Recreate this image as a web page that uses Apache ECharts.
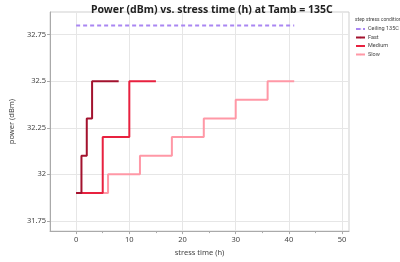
<!DOCTYPE html>
<html><head><meta charset="utf-8">
<script src="https://cdn.jsdelivr.net/npm/echarts@6/dist/echarts.min.js"></script>
<style>html,body{margin:0;padding:0;background:#fff}#c{width:400px;height:262px}</style>
</head><body><div id="c"></div>
<script>
const xTicks = [0, 10, 20, 30, 40, 50];
const xMinorTicks = [5, 15, 25, 35, 45];
const yTicks = [31.75, 32, 32.25, 32.5, 32.75];

const ceilingTime = [0, 41];
const ceilingPower = [32.8, 32.8];
const fastTime = [0, 1, 2, 3, 8];
const fastPower = [31.9, 32.1, 32.3, 32.5, 32.5];
const mediumTime = [0, 5, 10, 15];
const mediumPower = [31.9, 32.2, 32.5, 32.5];
const slowTime = [0, 6, 12, 18, 24, 30, 36, 41];
const slowPower = [31.9, 32.0, 32.1, 32.2, 32.3, 32.4, 32.5, 32.5];

const pairs = (t, p) => t.map((v, i) => [v, p[i]]);
const font = 'Noto Sans, Open Sans, sans-serif';
const small = 'Roboto, Noto Sans, sans-serif';
const chart = echarts.init(document.getElementById('c'), null, {renderer: 'canvas'});
chart.setOption({
  animation: false,
  backgroundColor: '#fff',
  title: [
    {text: 'Power (dBm) vs. stress time (h) at Tamb = 135C', left: 86, top: 0,
     textStyle: {fontSize: 10.5, fontWeight: 'bold', color: '#222', fontFamily: font}},
    {text: 'step stress condition', left: 350, top: 12,
     textStyle: {fontSize: 5, fontWeight: 'normal', color: '#444', fontFamily: small}}
  ],
  legend: {
    orient: 'vertical', left: 350, top: 21, itemWidth: 9, itemHeight: 2, itemGap: 2.5,
    textStyle: {fontSize: 5.5, color: '#444', fontFamily: small, padding: [0,0,0,-2]},
    data: ['Ceiling 135C', 'Fast', 'Medium', 'Slow']
  },
  grid: {left: 35, right: 51, top: 12, bottom: 22, show: true, borderColor: '#cfcfcf', borderWidth: 1, containLabel: false},
  xAxis: [{
    type: 'value', min: -4.9, max: 51.3,
    name: 'stress time (h)', nameLocation: 'middle', nameGap: 12,
    nameTextStyle: {fontSize: 7.5, color: '#444', fontFamily: font},
    axisLine: {show: true, onZero: false, lineStyle: {color: '#aaa'}},
    axisTick: {show: true, length: 3, lineStyle: {color: '#aaa'}, customValues: xTicks},
    axisLabel: {fontSize: 7.5, color: '#444', fontFamily: font, margin: 5, customValues: xTicks},
    splitLine: {show: true, lineStyle: {color: '#e6e6e6'}}
  }, {
    type: 'value', min: -4.9, max: 51.3, position: 'bottom',
    axisLine: {show: false, onZero: false},
    axisTick: {show: true, length: 2, lineStyle: {color: '#aaa'}, customValues: xMinorTicks},
    axisLabel: {show: false},
    splitLine: {show: false}
  }],
  yAxis: {
    type: 'value', min: 31.695, max: 32.872,
    name: 'power (dBm)', nameLocation: 'middle', nameGap: 25,
    nameTextStyle: {fontSize: 7.5, color: '#444', fontFamily: font},
    axisLine: {show: true, onZero: false, lineStyle: {color: '#aaa'}},
    axisTick: {show: true, length: 3, lineStyle: {color: '#aaa'}, customValues: yTicks},
    axisLabel: {fontSize: 7.5, color: '#444', fontFamily: font, margin: 4, customValues: yTicks},
    splitLine: {show: true, lineStyle: {color: '#e6e6e6'}}
  },
  series: [
    {name: 'Slow', type: 'line', step: 'end', symbol: 'none', z: 2,
     data: pairs(slowTime, slowPower), lineStyle: {color: '#ff98a6', width: 2}, itemStyle: {color: '#ff98a6'}},
    {name: 'Medium', type: 'line', step: 'end', symbol: 'none', z: 3,
     data: pairs(mediumTime, mediumPower), lineStyle: {color: '#e8213f', width: 2}, itemStyle: {color: '#e8213f'}},
    {name: 'Fast', type: 'line', step: 'end', symbol: 'none', z: 4,
     data: pairs(fastTime, fastPower), lineStyle: {color: '#a3122e', width: 2}, itemStyle: {color: '#a3122e'}},
    {name: 'Ceiling 135C', type: 'line', symbol: 'none', z: 5,
     data: pairs(ceilingTime, ceilingPower), lineStyle: {color: '#a986f2', width: 2, type: [4, 3]}, itemStyle: {color: '#a986f2'}}
  ]
});
</script></body></html>
